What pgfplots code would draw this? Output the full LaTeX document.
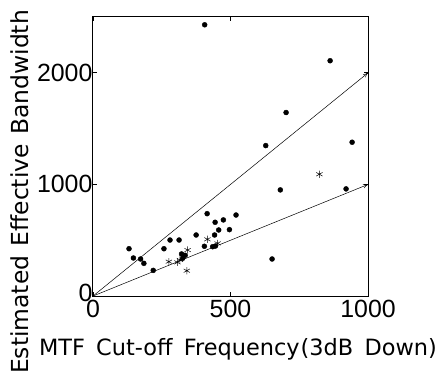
\documentclass[border=0pt]{standalone}
\usepackage{fontspec}
\setmainfont{DejaVu Sans}
\newfontfamily\tickfont{Liberation Sans}
\usepackage{pgfplots}
\pgfplotsset{compat=1.18}
\usetikzlibrary{arrows.meta}
\begin{document}
\begin{tikzpicture}
\begin{axis}[
  scale only axis,
  width=275bp, height=279bp,
  xmin=0, xmax=1000, ymin=0, ymax=2500,
  xtick={0,500,1000}, ytick={0,1000,2000},
  yticklabels={{\raisebox{6bp}{0}},1000,2000},
  tick align=inside,
  major tick length=4bp,
  axis line style={line width=1pt},
  every tick/.style={line width=0.7pt, black},
  /pgf/number format/assume math mode=true,
  /pgf/number format/1000 sep={},
  tick label style={font=\tickfont\fontsize{25}{28}\selectfont},
  xlabel={MTF\hspace{0.5em}Cut-off\hspace{0.5em}Frequency\hspace{0.05em}(3dB\hspace{0.5em}Down)},
  ylabel={Estimated\hspace{0.4em}Effective\hspace{0.4em}Bandwidth},
  xlabel style={font=\fontsize{22.5}{26}\selectfont, at={(axis description cs:0.527,-0.2115)}, anchor=base, inner sep=0pt},
  ylabel style={font=\fontsize{23.5}{27}\selectfont, at={(axis description cs:-0.236,0.373)}, anchor=base, inner sep=0pt},
  yticklabel style={xshift=3bp},
  xticklabel style={yshift=-1bp},
  clip=false,
]
\addplot[only marks, mark=*, mark size=2.5bp, black] coordinates {
(131,424) (147,341) (173,332) (185,293) (219,230) (258,424) (280,502)
(313,502) (322,377) (335,365) (326,338) (375,547) (415,738) (405,446)
(435,442) (445,448) (442,547) (444,661) (457,592) (474,682) (496,595)
(520,726) (651,332) (681,951) (920,960)
(406,2430) (862,2108) (702,1644) (628,1348) (942,1378)
};
\addplot[only marks, mark=asterisk, mark size=3.6bp, black, mark options={line width=0.5pt}] coordinates {
(276,308) (307,302) (341,227) (344,412) (316,323) (416,508) (453,472) (823,1091)
};
\addplot[black, line width=0.5pt, -{To[length=5bp,width=4bp]}] coordinates {(0,0) (1000,2000)};
\addplot[black, line width=0.5pt, -{To[length=5bp,width=4bp]}] coordinates {(0,0) (1000,1000)};
\coordinate (bl) at (axis cs:-338,-788);
\coordinate (tr) at (axis cs:1276,2652);
\end{axis}
\pgfresetboundingbox
\useasboundingbox (bl) rectangle (tr);
\end{tikzpicture}
\end{document}
